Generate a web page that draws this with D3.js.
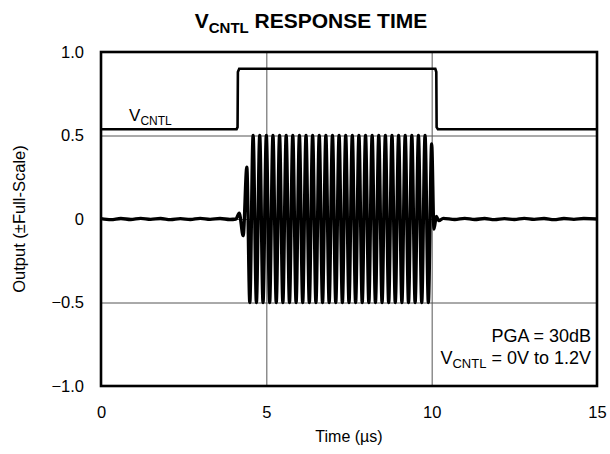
<!DOCTYPE html>
<html>
<head>
<meta charset="utf-8">
<script src="https://cdn.jsdelivr.net/npm/d3@7/dist/d3.min.js"></script>
<style>
  body { margin: 0; background: #fff; }
  text { font-family: "Liberation Sans", Arial, Helvetica, sans-serif; fill: #000; }
  .grid line { stroke: #555; stroke-width: 1; }
  .grid path { display: none; }
  .axis path, .axis line { display: none; }
</style>
</head>
<body>
<div id="chart"></div>
<script>
// tick values and labels
var xTicks = [0, 5, 10, 15];
var yTicks = [-1, -0.5, 0, 0.5, 1];
var yTickLabels = ["\u22121.0", "\u22120.5", "0", "0.5", "1.0"];
var xGrid = [5, 10];
var yGrid = [-0.5, 0, 0.5];

// V_CNTL step trace (time in us, level in full-scale units)
var vcntlTime  = [0, 4.10, 4.13, 4.14, 4.18, 10.11, 10.14, 10.15, 10.19, 15];
var vcntlLevel = [0.537, 0.537, 0.55, 0.88, 0.90, 0.90, 0.88, 0.55, 0.537, 0.537];

// output trace: [time, output]
var outputTrace = [
  [0, 0.002], [0.3, -0.004], [0.6, 0.003], [0.9, -0.003], [1.2, 0.004], [1.5, -0.002],
  [1.8, 0.003], [2.1, -0.004], [2.4, 0.002], [2.7, -0.003], [3.0, 0.004], [3.3, -0.002],
  [3.6, 0.003], [3.9, -0.003], [4.08, 0.0],
  [4.18, 0.035], [4.30, -0.10], [4.41, 0.31],
  [4.50, -0.50], [4.60, 0.50], [4.70, -0.50], [4.80, 0.50], [4.90, -0.50], [5.00, 0.50],
  [5.10, -0.50], [5.20, 0.50], [5.30, -0.50], [5.40, 0.50], [5.50, -0.50], [5.60, 0.50],
  [5.70, -0.50], [5.80, 0.50], [5.90, -0.50], [6.00, 0.50], [6.10, -0.50], [6.20, 0.50],
  [6.30, -0.50], [6.40, 0.50], [6.50, -0.50], [6.60, 0.50], [6.70, -0.50], [6.80, 0.50],
  [6.90, -0.50], [7.00, 0.50], [7.10, -0.50], [7.20, 0.50], [7.30, -0.50], [7.40, 0.50],
  [7.50, -0.50], [7.60, 0.50], [7.70, -0.50], [7.80, 0.50], [7.90, -0.50], [8.00, 0.50],
  [8.10, -0.50], [8.20, 0.50], [8.30, -0.50], [8.40, 0.50], [8.50, -0.50], [8.60, 0.50],
  [8.70, -0.50], [8.80, 0.50], [8.90, -0.50], [9.00, 0.50], [9.10, -0.50], [9.20, 0.50],
  [9.30, -0.50], [9.40, 0.50], [9.50, -0.50], [9.60, 0.50], [9.70, -0.50], [9.80, 0.50],
  [9.90, -0.50], [10.00, 0.45],
  [10.07, -0.06], [10.14, 0.015], [10.22, -0.01], [10.35, 0.004],
  [10.7, -0.003], [11.0, 0.004], [11.3, -0.003], [11.6, 0.003], [11.9, -0.004], [12.2, 0.002],
  [12.5, -0.003], [12.8, 0.004], [13.1, -0.002], [13.4, 0.003], [13.7, -0.004], [14.0, 0.003],
  [14.3, -0.002], [14.6, 0.003], [15, 0.0]
];

// set the dimensions and margins of the graph
var margin = {top: 52, right: 13, bottom: 68, left: 101},
    width = 610 - margin.left - margin.right,
    height = 454 - margin.top - margin.bottom;

var x = d3.scaleLinear().domain([0, 15]).range([0, width]);
var y = d3.scaleLinear().domain([-1, 1]).range([height, 0]);

var svg = d3.select("#chart").append("svg")
    .attr("width", width + margin.left + margin.right)
    .attr("height", height + margin.top + margin.bottom);

var g = svg.append("g")
    .attr("transform", "translate(" + margin.left + "," + margin.top + ")");

// grid lines
g.append("g")
    .attr("class", "grid")
    .attr("transform", "translate(0," + height + ")")
    .call(d3.axisBottom(x).tickValues(xGrid).tickSize(-height).tickFormat(""));

g.append("g")
    .attr("class", "grid")
    .call(d3.axisLeft(y).tickValues(yGrid).tickSize(-width).tickFormat(""));

// axes (labels only)
g.append("g")
    .attr("class", "axis")
    .attr("transform", "translate(0," + height + ")")
    .call(d3.axisBottom(x).tickValues(xTicks).tickSize(0).tickPadding(20).tickFormat(d3.format("d")))
    .selectAll("text")
    .style("font-size", "16.5px")
    .style("font-family", null);

g.append("g")
    .attr("class", "axis")
    .call(d3.axisLeft(y).tickValues(yTicks).tickSize(0).tickPadding(17)
        .tickFormat(function(d, i) { return yTickLabels[i]; }))
    .selectAll("text")
    .style("font-size", "16.5px")
    .style("font-family", null);

// lines
var vcntlLine = d3.line()
    .x(function(d, i) { return x(vcntlTime[i]); })
    .y(function(d, i) { return y(vcntlLevel[i]); });

g.append("path")
    .datum(vcntlTime)
    .attr("fill", "none")
    .attr("stroke", "#000")
    .attr("stroke-width", 2.6)
    .attr("d", vcntlLine);

var outLine = d3.line()
    .curve(d3.curveMonotoneX)
    .x(function(d) { return x(d[0]); })
    .y(function(d) { return y(d[1]); });

g.append("path")
    .datum(outputTrace)
    .attr("fill", "none")
    .attr("stroke", "#000")
    .attr("stroke-width", 3.3)
    .attr("stroke-linejoin", "round")
    .attr("d", outLine);

// frame
g.append("rect")
    .attr("width", width)
    .attr("height", height)
    .attr("fill", "none")
    .attr("stroke", "#000")
    .attr("stroke-width", 2.6);

// V_CNTL label in plot
var lbl = g.append("text")
    .attr("x", x(0.85))
    .attr("y", y(0.585))
    .style("font-size", "17px");
lbl.append("tspan").text("V");
lbl.append("tspan").attr("dy", 4).style("font-size", "12px").text("CNTL");

// annotation
g.append("text")
    .attr("x", width - 6)
    .attr("y", y(-0.735))
    .attr("text-anchor", "end")
    .style("font-size", "18px")
    .text("PGA = 30dB");

var ann = g.append("text")
    .attr("x", width - 6)
    .attr("y", y(-0.87))
    .attr("text-anchor", "end")
    .style("font-size", "18px");
ann.append("tspan").text("V");
ann.append("tspan").attr("dy", 4).style("font-size", "13px").text("CNTL");
ann.append("tspan").attr("dy", -4).text(" = 0V to 1.2V");

// axis titles
svg.append("text")
    .attr("x", margin.left + width / 2)
    .attr("y", 442)
    .attr("text-anchor", "middle")
    .style("font-size", "16px")
    .text("Time (\u00b5s)");

svg.append("text")
    .attr("transform", "translate(25," + (margin.top + height / 2) + ") rotate(-90)")
    .attr("text-anchor", "middle")
    .style("font-size", "16.5px")
    .text("Output (\u00b1Full-Scale)");

// title
var title = svg.append("text")
    .attr("x", 311)
    .attr("y", 28)
    .attr("text-anchor", "middle")
    .style("font-size", "21px")
    .style("font-weight", "bold")
    .style("font-family", "'Liberation Sans Narrow', 'Liberation Sans', Arial, sans-serif");
title.append("tspan").text("V");
title.append("tspan").attr("dy", 5).style("font-size", "15px").text("CNTL");
title.append("tspan").attr("dy", -5).text(" RESPONSE TIME");
</script>
</body>
</html>
